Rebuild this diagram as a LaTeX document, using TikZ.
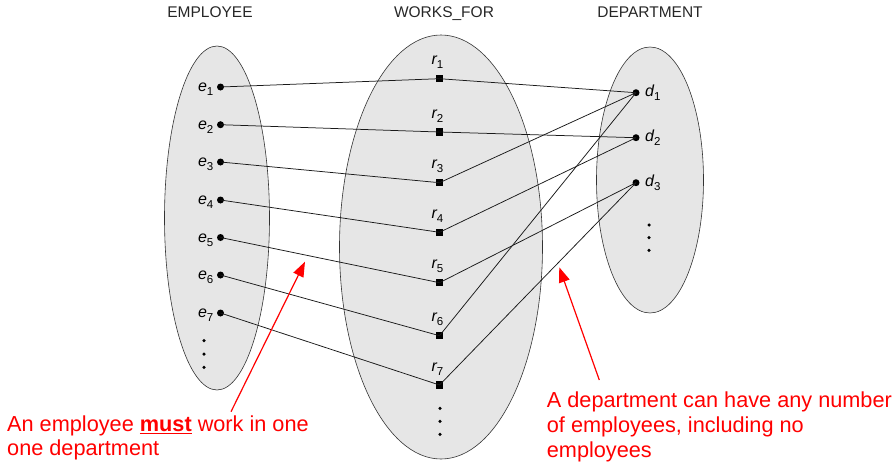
\documentclass[tikz,border=0pt]{standalone}
\usepackage{fontspec}
\setmainfont{Liberation Sans}
\usetikzlibrary{arrows.meta,shapes.geometric}
\definecolor{setfill}{HTML}{E6E6E6}
\definecolor{notered}{HTML}{FF0000}
\newcommand{\elbl}[2]{{\fontsize{16}{18}\selectfont\itshape #1}\raisebox{-4pt}{\fontsize{11.5}{13}\selectfont #2}}
\begin{document}
\begin{tikzpicture}[x=1pt,y=-1pt,
  setshape/.style={ellipse, draw=black!80, fill=setfill, line width=0.6pt, inner sep=0},
  edot/.style={circle, fill=black, inner sep=0, minimum size=7pt},
  rsq/.style={rectangle, fill=black, inner sep=0, minimum size=7.3pt},
  sdot/.style={circle, fill=black, inner sep=0, minimum size=3.5pt},
  link/.style={draw=black!90, line width=0.75pt},
  title/.style={font=\fontsize{15.5}{18}\selectfont, anchor=base, inner sep=0, text=black!85},
  lblE/.style={anchor=base east, inner sep=0},
  lblR/.style={anchor=base, inner sep=0},
  lblD/.style={anchor=base west, inner sep=0},
  note/.style={text=notered, align=left, anchor=base west, inner sep=0},
  redarrow/.style={draw=notered, line width=1.2pt, -{Triangle[length=15pt,width=11pt]}}
]
\useasboundingbox (0,0) rectangle (895,466);
% sets
\node[setshape, minimum width=105pt, minimum height=344pt] (EMP) at (217,218) {};
\node[setshape, minimum width=203pt, minimum height=424pt] (WF) at (441,247) {};
\node[setshape, minimum width=107pt, minimum height=266pt] (DEP) at (650,180) {};
% titles
\node[title] (tE) at (210,17.3) {EMPLOYEE};
\node[title] (tW) at (444,17.3) {WORKS\_FOR};
\node[title] (tD) at (650,17.3) {DEPARTMENT};
% employees
\foreach \i/\y in {1/87,2/124.7,3/162,4/200,5/237.5,6/275,7/313}{
  \node[edot] (e\i) at (220.5,\y) {};
  \node[lblE] (le\i) at (213.5,\y+4.5) {\elbl{e}{\i}};
}
\node[sdot] (ed1) at (204,340.7) {};
\node[sdot] (ed2) at (204,354) {};
\node[sdot] (ed3) at (204,367.3) {};
% relationship instances
\foreach \i/\y in {1/78.7,2/132,3/182.7,4/232.3,5/282.7,6/335.7,7/385}{
  \node[rsq] (r\i) at (439.5,\y) {};
  \node[lblR] (lr\i) at (437.5,\y-14) {\elbl{r}{\i}};
}
\node[sdot] (rd1) at (440,408.3) {};
\node[sdot] (rd2) at (440,421.3) {};
\node[sdot] (rd3) at (440,434.3) {};
% departments
\foreach \i/\y in {1/92.7,2/137.7,3/182.7}{
  \node[edot] (d\i) at (636,\y) {};
  \node[lblD] (ld\i) at (645,\y+3.5) {\elbl{d}{\i}};
}
\node[sdot] (dd1) at (649,225) {};
\node[sdot] (dd2) at (649,237.7) {};
\node[sdot] (dd3) at (649,250.3) {};
% links
\foreach \i in {1,...,7}{ \draw[link] (e\i.center) -- (r\i.center); }
\draw[link] (r1.center) -- (d1.center);
\draw[link] (r2.center) -- (d2.center);
\draw[link] (r3.center) -- (d1.center);
\draw[link] (r4.center) -- (d2.center);
\draw[link] (r5.center) -- (d3.center);
\draw[link] (r6.center) -- (d1.center);
\draw[link] (r7.center) -- (d3.center);
% notes (base anchor = last line)
\node[note, font=\fontsize{21.7}{23.3}\selectfont] (n1) at (7,455) {An employee \underline{\textbf{must}} work in one\\one department};
\node[note, font=\fontsize{21.7}{24.8}\selectfont] (n2) at (546.7,457.3) {A department can have any number\\of employees, including no\\employees};
\coordinate (a1s) at (231,411.7);
\coordinate (a1t) at (305,261.7);
\coordinate (a2s) at (599.3,380);
\coordinate (a2t) at (559.3,267.3);
\draw[redarrow] (a1s) -- (a1t);
\draw[redarrow] (a2s) -- (a2t);
\end{tikzpicture}
\end{document}
